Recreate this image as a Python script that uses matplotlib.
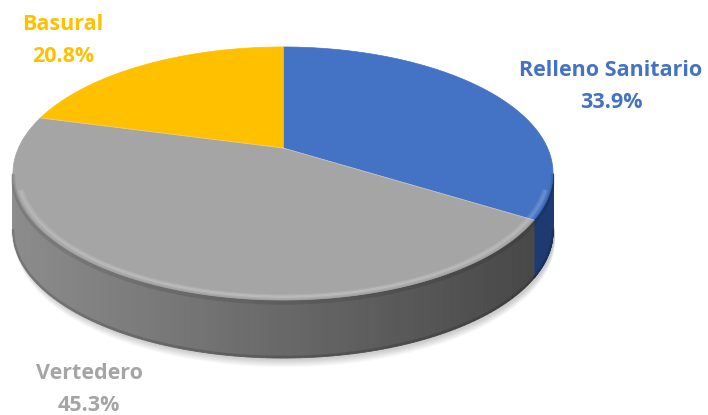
import numpy as np
import matplotlib.pyplot as plt
from matplotlib.colors import to_rgb

# chart data
labels = ['Relleno Sanitario', 'Vertedero', 'Basural']
shares = [33.9, 45.3, 20.8]
top_colors = ['#4472C4', '#A5A5A5', '#FFC000']
side_colors = [('#2e5399', '#1e3a70'), ('#8c8c8c', '#454545'), ('#c99700', '#a67c00')]
label_pos = [(611, 70), (89, 373), (63, 24)]

# perspective of the disc (pixel units)
CX, CY = 283, 148
A, B, K = 264.5, 121.4, 0.2016
DEPTH = 58


def project(t, r=1.0, dz=0.0):
	t = np.radians(t)
	u = r * np.cos(t)
	v = r * np.sin(t)
	w = 1 + K * v
	return CX + A * u / w, CY - B * v / w + dz


def mix(c1, c2, f):
	a = np.array(to_rgb(c1))
	b = np.array(to_rgb(c2))
	return tuple(a + (b - a) * f)


fig = plt.figure(figsize=(7.08, 4.15), dpi=100)
ax = fig.add_axes([0, 0, 1, 1])
ax.set_xlim(0, 708)
ax.set_ylim(415, 0)
ax.axis('off')

# wedge angles, clockwise from 12 o'clock
total = float(sum(shares))
starts = []
ends = []
ang = 90.0
for s in shares:
	starts.append(ang)
	ang -= 360.0 * s / total
	ends.append(ang)

# soft shadow under the disc
tt = np.linspace(0, 360, 200)
for i in range(10):
	xs, ys = project(tt, 1.0, DEPTH + 2 + i * 0.8)
	ax.fill(xs + 2, ys, color='#000000', alpha=0.018, lw=0, zorder=1)

# visible side of the cylinder
vis_lo = -180 + np.degrees(np.arcsin(K))
vis_hi = -np.degrees(np.arcsin(K))
xl, _ = project(vis_lo)
xr, _ = project(vis_hi)
for i in range(len(shares)):
	lo = max(ends[i], vis_lo)
	hi = min(starts[i], vis_hi)
	if hi <= lo:
		continue
	ts = np.linspace(lo, hi, 120)
	for j in range(len(ts) - 1):
		x0, y0 = project(ts[j])
		x1, y1 = project(ts[j + 1])
		f = ((x0 + x1) / 2 - xl) / (xr - xl)
		c = mix(side_colors[i][0], side_colors[i][1], f)
		ax.fill([x0, x1, x1, x0], [y0, y1, y1 + DEPTH, y0 + DEPTH],
			color=c, lw=0.6, ec=c, zorder=2)
	# darker bottom edge
	bx, by = project(ts, 1.0, DEPTH)
	ax.plot(bx, by - 1, color='#000000', alpha=0.15, lw=2, zorder=3)

# top face
for i in range(len(shares)):
	ts = np.linspace(starts[i], ends[i], 200)
	xs, ys = project(ts)
	ax.fill(np.r_[CX, xs], np.r_[CY, ys], color=top_colors[i],
		lw=0.5, ec=top_colors[i], zorder=4)

# wedge separators
for a in starts:
	ex, ey = project(a)
	ax.plot([CX, ex], [CY, ey], color='#d8d8d8', lw=0.6, alpha=0.6, zorder=5)

# soft rim bevel
ts = np.linspace(vis_lo + 8, vis_hi - 8, 200)
for r, al in [(0.975, 0.10), (0.982, 0.18), (0.988, 0.10)]:
	hx, hy = project(ts, r)
	ax.plot(hx, hy, color='white', lw=1.5, alpha=al, zorder=6)
ts = np.linspace(vis_lo, vis_hi, 200)
hx, hy = project(ts, 1.0, 2.5)
ax.plot(hx, hy, color='black', lw=3, alpha=0.10, zorder=6)

# labels
for i in range(len(shares)):
	x, y = label_pos[i]
	ax.text(x, y, labels[i], color=top_colors[i], fontsize=15.5, fontweight='bold',
		family='Open Sans', ha='center', va='center')
	ax.text(x, y + 32, '%.1f%%' % shares[i], color=top_colors[i], fontsize=15.5,
		fontweight='bold', family='Open Sans', ha='center', va='center')

fig.savefig('out.png', dpi=100)
